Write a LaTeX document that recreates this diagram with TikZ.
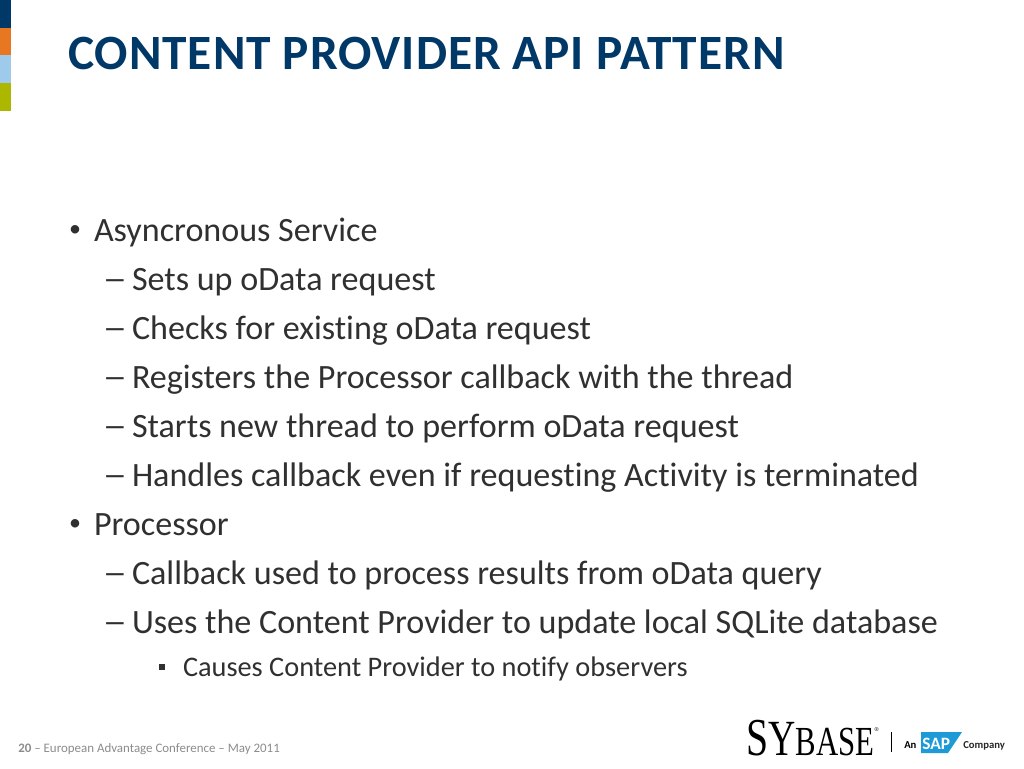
\documentclass[tikz,border=0pt]{standalone}
\usepackage{fontspec}
\setmainfont{Carlito}[Ligatures=NoCommon]
\newfontfamily\titlefont{Carlito}[LetterSpace=1.9,Ligatures=NoCommon]
\newfontfamily\logofont{Liberation Serif}
\definecolor{navy}{HTML}{003868}
\definecolor{bodygray}{HTML}{303030}
\definecolor{footgray}{HTML}{8C8C8C}
\definecolor{sapblue}{HTML}{1E9BD7}
\definecolor{barorange}{HTML}{E87722}
\definecolor{barblue}{HTML}{9ECBEC}
\definecolor{bargreen}{HTML}{ACB800}
\tikzset{
  x=0.75pt,y=-0.75pt,
  line/.style={anchor=base west,inner sep=0pt,outer sep=0pt,text=bodygray,font=\fontsize{25.55}{26}\selectfont},
  dashmark/.style={anchor=base west,inner sep=0pt,outer sep=0pt,text=bodygray,font=\bfseries\fontsize{18}{18}\selectfont},
  bulletmark/.style={anchor=base west,inner sep=0pt,outer sep=0pt,text=bodygray,font=\fontsize{18}{18}\selectfont},
  subline/.style={anchor=base west,inner sep=0pt,outer sep=0pt,text=bodygray,font=\fontsize{21.25}{22}\selectfont},
}
\begin{document}
\begin{tikzpicture}
\useasboundingbox (0,0) rectangle (1024,768);
\fill[white] (0,0) rectangle (1024,768);
\fill[navy] (0,0) rectangle (11,27.5);
\fill[barorange] (0,27.5) rectangle (11,55);
\fill[barblue] (0,55) rectangle (11,83);
\fill[bargreen] (0,83) rectangle (11,111);
\node[anchor=base west,inner sep=0pt,text=navy,font=\titlefont\bfseries\fontsize{37}{37}\selectfont] (title) at (68,69.5) {CONTENT PROVIDER API PATTERN};
\node[bulletmark] (b1) at (69,236) {•};
\node[line] (t1) at (94,241.7) {Asyncronous Service};
\node[dashmark] (d1) at (104,287) {—};
\node[line] (t2) at (132,290.7) {Sets up oData request};
\node[dashmark] (d2) at (104,336) {—};
\node[line] (t3) at (132,339.7) {Checks for existing oData request};
\node[dashmark] (d3) at (104,385) {—};
\node[line] (t4) at (132,388.7) {Registers the Processor callback with the thread};
\node[dashmark] (d4) at (104,434) {—};
\node[line] (t5) at (132,437.7) {Starts new thread to perform oData request};
\node[dashmark] (d5) at (104,483) {—};
\node[line] (t6) at (132,486.7) {Handles callback even if requesting Activity is terminated};
\node[bulletmark] (b2) at (69,530) {•};
\node[line] (t7) at (94,535.7) {Processor};
\node[dashmark] (d6) at (104,581) {—};
\node[line] (t8) at (132,584.7) {Callback used to process results from oData query};
\node[dashmark] (d7) at (104,630) {—};
\node[line] (t9) at (132,633.7) {Uses the Content Provider to update local SQLite database};
\fill[bodygray] (159,664) rectangle (165,670);
\node[subline] (t10) at (183,676.5) {Causes Content Provider to notify observers};
\node[anchor=base west,inner sep=0pt,text=footgray,font=\fontsize{9.7}{10}\selectfont] (foot) at (18,752) {\textbf{20} – European Advantage Conference – May 2011};
\node[anchor=base west,inner sep=0pt,text=black,font=\logofont] (sy) at (746,755) {\scalebox{0.745}[1]{{\fontsize{40}{40}\selectfont S}{\fontsize{38}{38}\selectfont Y}{\fontsize{31}{31}\selectfont BASE}}};
\node[anchor=base west,inner sep=0pt,text=black,font=\logofont\fontsize{4.5}{5}\selectfont] (reg) at (874,731) {®};
\draw[black,line width=0.7pt] (891,732) -- (891,752);
\node[anchor=base west,inner sep=0pt,text=black,font=\bfseries\fontsize{8}{8}\selectfont] (an) at (904,748) {An};
\fill[sapblue] (921,732) -- (962,732) -- (948,753) -- (921,753) -- cycle;
\node[anchor=base west,inner sep=0pt,text=white,font=\bfseries\fontsize{13}{13}\selectfont] (sap) at (922,749) {SAP};
\node[anchor=base west,inner sep=0pt,text=black!85,font=\bfseries\fontsize{8}{8}\selectfont] (co) at (963,748) {Company};
\end{tikzpicture}
\end{document}
